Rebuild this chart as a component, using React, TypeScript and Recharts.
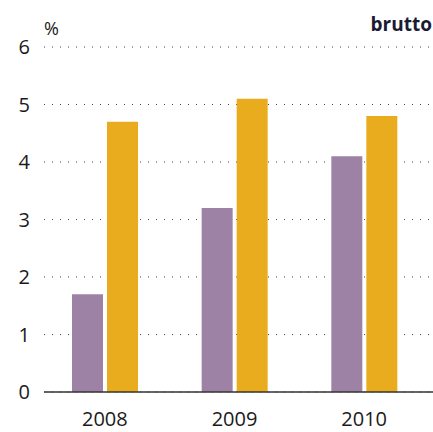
import { BarChart, Bar, XAxis, YAxis, CartesianGrid } from 'recharts';

const years = ['2008', '2009', '2010'];
const purple = [1.7, 3.2, 4.1];
const gold = [4.7, 5.1, 4.8];
const yTicks = [0, 1, 2, 3, 4, 5, 6];

const data = years.map((year, i) => ({ year, a: purple[i], b: gold[i] }));

const FONT = '"Open Sans", sans-serif';

export default function App() {
  return (
    <div style={{ position: 'absolute', left: 0, top: 0, width: 433, height: 432, background: '#fff', fontFamily: FONT }}>
      <BarChart
        width={433}
        height={432}
        data={data}
        margin={{ top: 47, right: 0, bottom: 0, left: 0 }}
        barSize={31}
        barGap={4}
      >
        <CartesianGrid vertical={false} stroke="#444" strokeDasharray="1 7" />
        <XAxis
          dataKey="year"
          height={40}
          tickLine={false}
          axisLine={{ stroke: '#333', strokeWidth: 1.5 }}
          padding={{ left: -4, right: 4 }}
          tick={{ fill: '#1a1a1a', fontSize: 20, fontFamily: FONT }}
          tickSize={0}
          tickMargin={20}
        />
        <YAxis
          width={44}
          domain={[0, 6]}
          ticks={yTicks}
          interval={0}
          axisLine={false}
          tickLine={false}
          tickSize={0}
          tickMargin={14}
          tick={{ fill: '#1a1a1a', fontSize: 20, fontFamily: FONT }}
        />
        <Bar dataKey="a" fill="#9e82a6" isAnimationActive={false} />
        <Bar dataKey="b" fill="#e9ac1f" isAnimationActive={false} />
      </BarChart>
      <div style={{ position: 'absolute', left: 44, top: 16, fontSize: 18, color: '#1a1a1a' }}>%</div>
      <div style={{ position: 'absolute', right: 1, top: 11, fontSize: 19, fontWeight: 700, color: '#1b1a35' }}>brutto</div>
    </div>
  );
}
